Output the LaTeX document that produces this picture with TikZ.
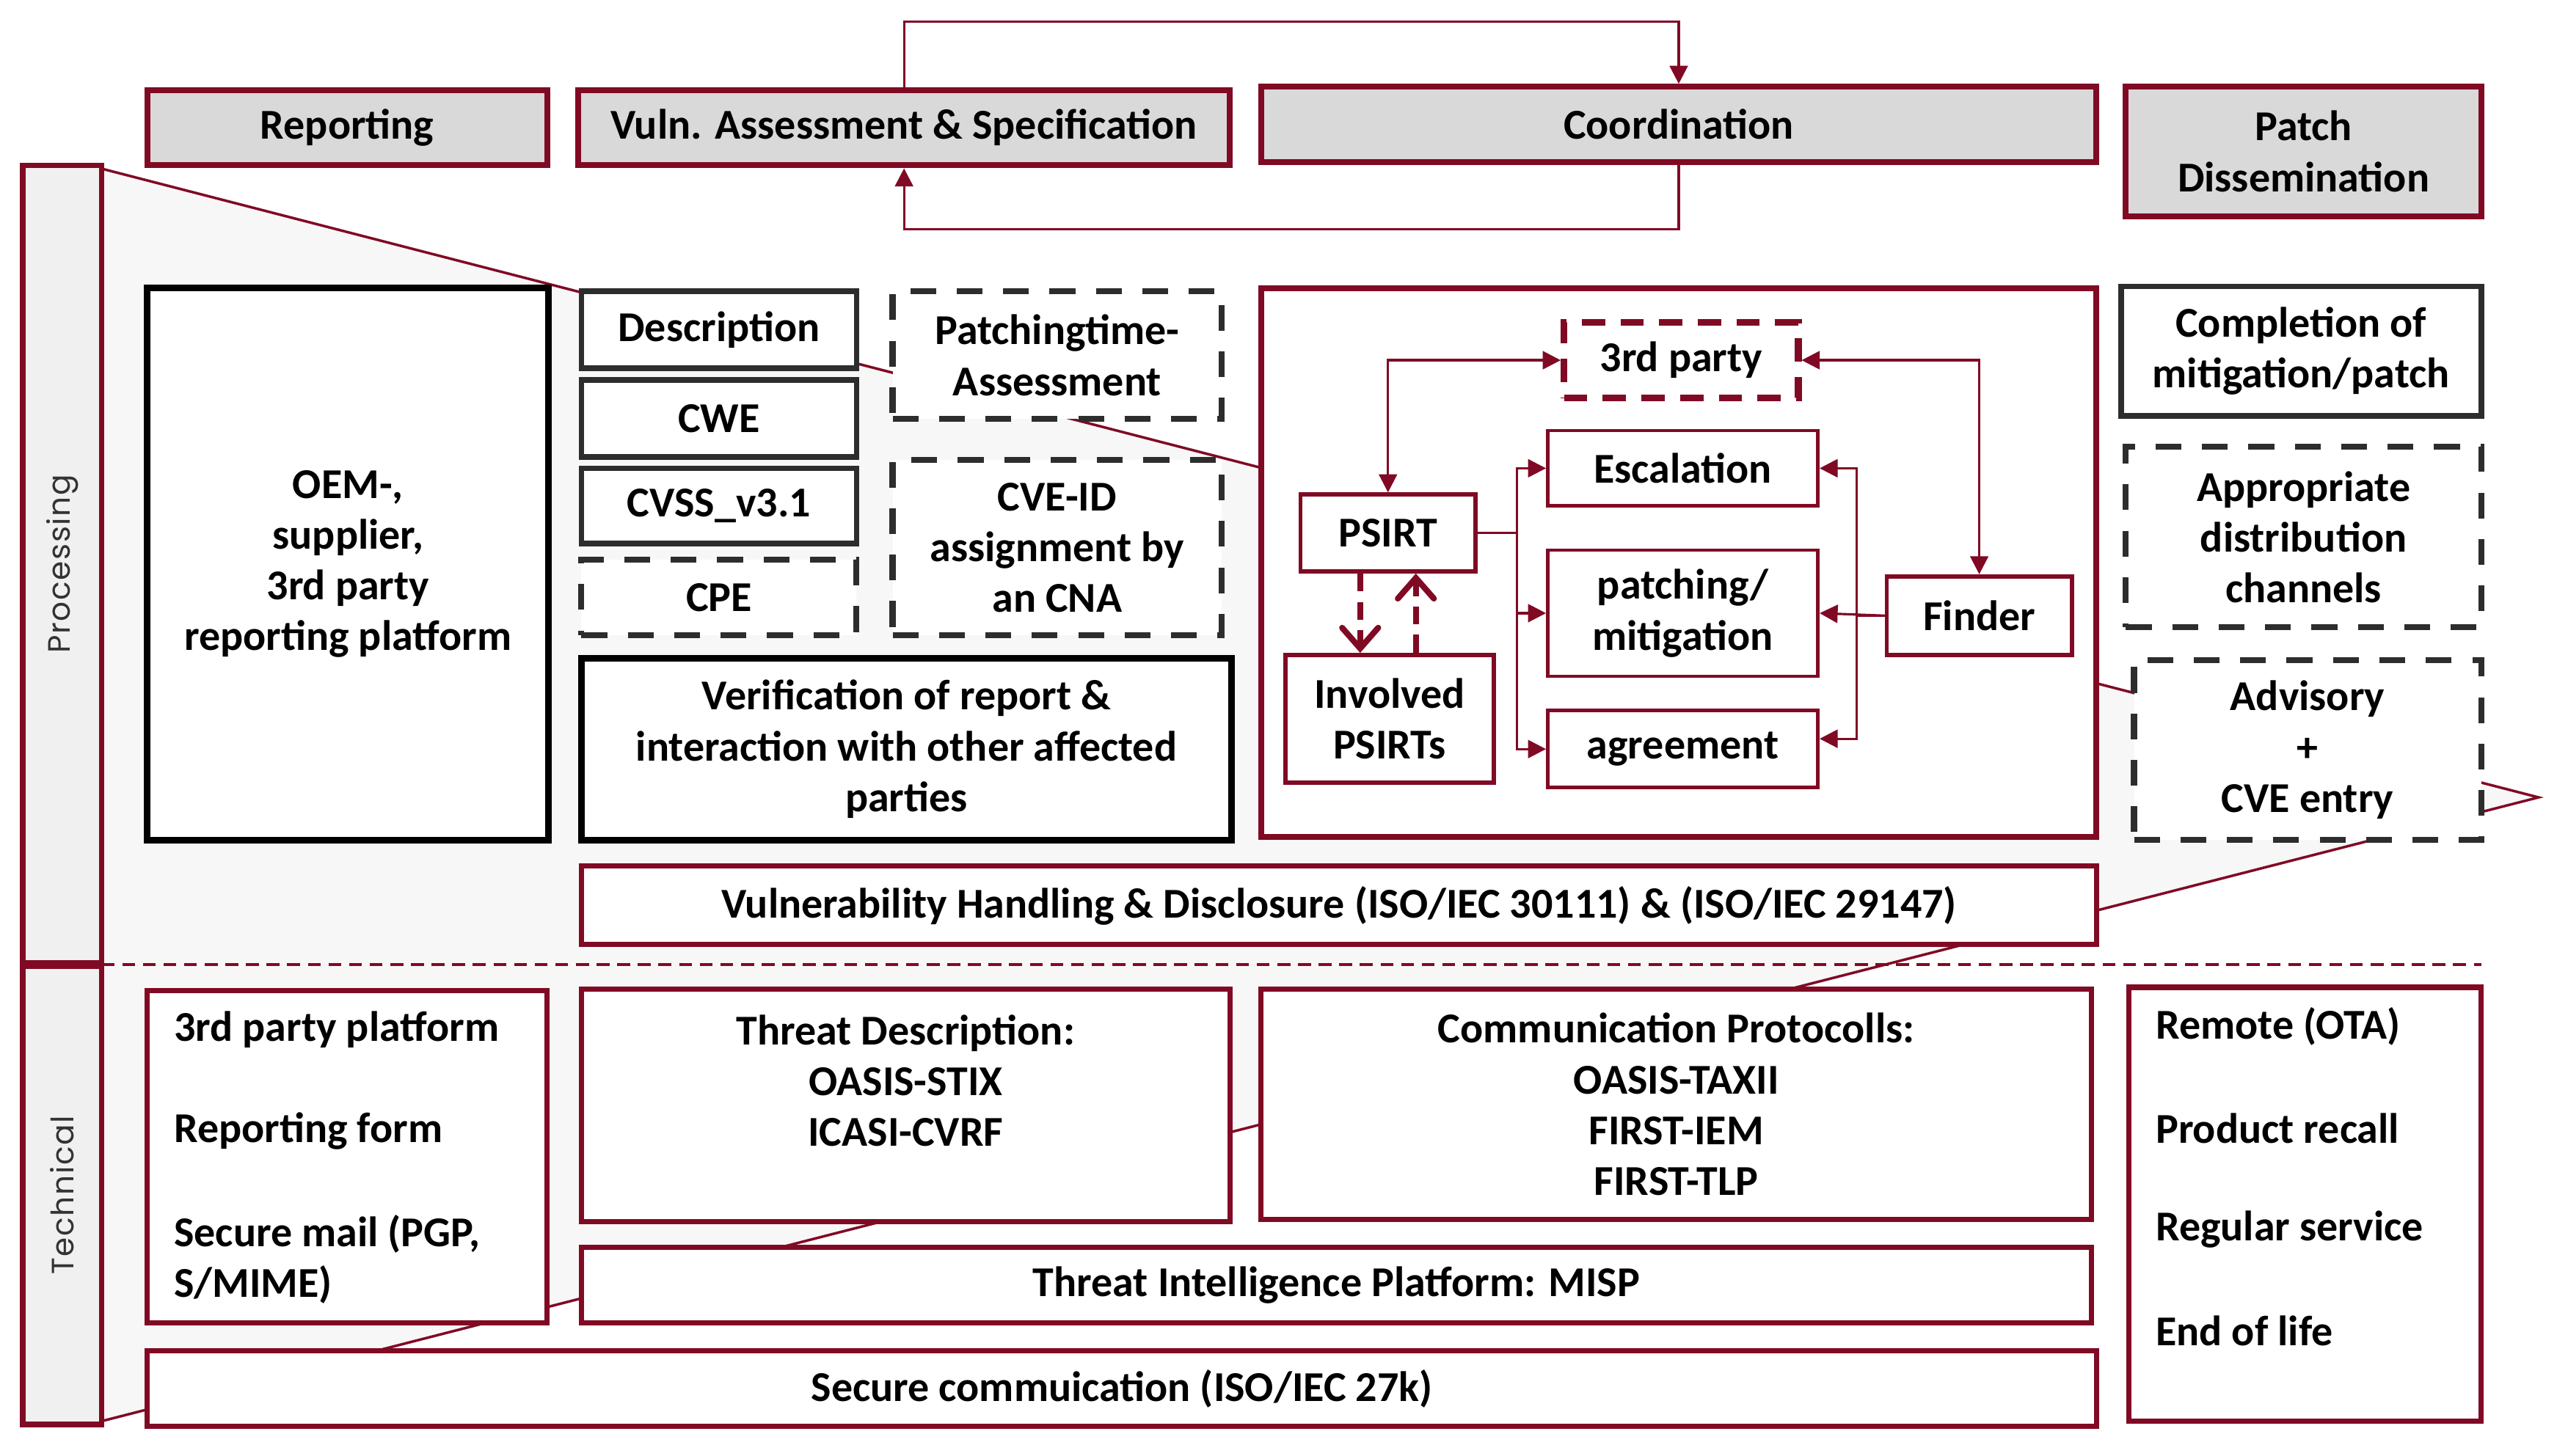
\documentclass[tikz,border=0pt]{standalone}
\usepackage{fontspec}
\setmainfont{Carlito}
\newfontfamily\sidefont{Poppins}[LetterSpace=4]
\usetikzlibrary{arrows.meta,fit,calc}
\definecolor{dred}{RGB}{128,10,36}
\definecolor{hdrgray}{RGB}{217,217,217}
\definecolor{sidegray}{RGB}{240,240,240}
\definecolor{trigray}{RGB}{247,247,247}
\definecolor{dgray}{RGB}{45,45,45}
\tikzset{
  txt/.style={font=\bfseries\fontsize{16.5}{19.7}\selectfont, align=center, text=black, inner sep=0pt},
  box/.style={inner sep=0pt, fill=white},
  hdr/.style={box, draw=dred, line width=2.3pt, fill=hdrgray},
  blk/.style={box, draw=black, line width=2.6pt},
  gry/.style={box, draw=dgray, line width=2.2pt},
  gdash/.style={gry, line width=2.3pt, dash pattern=on 10pt off 8pt},
  rbig/.style={box, draw=dred, line width=2.3pt},
  rsm/.style={box, draw=dred, line width=1.3pt},
  rtech/.style={box, draw=dred, line width=2pt},
  conn/.style={draw=dred, line width=0.9pt},
  tipend/.style={-{Triangle[length=7pt,width=7pt]}},
  tipboth/.style={{Triangle[length=7pt,width=7pt]}-{Triangle[length=7pt,width=7pt]}},
  dasharr/.style={draw=dred, line width=2.3pt, dash pattern=on 7pt off 4pt, -{Straight Barb[length=8pt,width=14pt,line cap=round]}},
  sidelbl/.style={rotate=90, font=\sidefont\fontsize{12}{14}\selectfont, text=black!80}
}
\begin{document}
\begin{tikzpicture}[x=0.022321cm,y=-0.022321cm]
\useasboundingbox (0,0) rectangle (1568,889);
\fill[white] (0,0) rectangle (1568,889);
% background callout triangle
\fill[trigray] (62,103) -- (1550,487) -- (62,868) -- cycle;
\draw[dred, line width=1pt] (62,103) -- (1550,487) -- (62,868);
% side bars
\node[box, draw=dred, line width=2.2pt, fill=sidegray, fit={(14,101)(62,588)}] (procbar) {};
\node[box, draw=dred, line width=2.2pt, fill=sidegray, fit={(14,590)(62,870)}] (techbar) {};
\node[sidelbl] (proclbl) at (procbar.center) {Processing};
\node[sidelbl] (techlbl) at (techbar.center) {Technical};
% dashed separator
\coordinate (sepL) at (62,589);
\coordinate (sepR) at (1515,589);
\draw[dred, line width=1pt, dash pattern=on 5pt off 3pt] (sepL) -- (sepR);
% headers
\node[hdr, fit={(90,55)(334,101)}] (rep) {};
\node[txt] (rept) at (rep.center) {Reporting};
\node[hdr, fit={(353,55)(751,101)}] (vuln) {};
\node[txt] (vulnt) at (vuln.center) {Vuln. Assessment \& Specification};
\node[hdr, fit={(770,53)(1280,99)}] (coord) {};
\node[txt] (coordt) at (coord.center) {Coordination};
\node[hdr, fit={(1298,53)(1515,132)}] (patchd) {};
\node[txt] (patchdt) at (patchd.center) {Patch\\Dissemination};
\draw[conn, tipend] (vuln.north) -- ++(0,-40) -| (coord.north);
\draw[conn, tipend] (coord.south) -- ++(0,39) -| (vuln.south);
% processing row
\node[blk, fit={(90,176)(335,513)}] (oem) {};
\node[txt] (oemt) at (oem.center) {OEM-,\\supplier,\\3rd party\\reporting platform};
\node[gry, fit={(355,178)(523,225)}] (desc) {};
\node[txt] (desct) at (desc.center) {Description};
\node[gry, fit={(355,232)(523,279)}] (cwe) {};
\node[txt] (cwet) at (cwe.center) {CWE};
\node[gry, fit={(355,286)(523,332)}] (cvss) {};
\node[txt] (cvsst) at (cvss.center) {CVSS\_v3.1};
\node[gdash, fit={(355,342)(523,388)}] (cpe) {};
\node[txt] (cpet) at (cpe.center) {CPE};
\node[gdash, fit={(545,178)(746,256)}] (pta) {};
\node[txt] (ptat) at (pta.center) {Patchingtime-\\Assessment};
\node[gdash, fit={(545,281)(746,388)}] (cveid) {};
\node[txt] (cveidt) at (cveid.center) {CVE-ID\\assignment by\\an CNA};
\node[blk, fit={(355,402)(752,513)}] (verif) {};
\node[txt] (veritft) at (verif.center) {Verification of report \&\\interaction with other affected\\parties};
\node[rbig, fit={(770,176)(1280,511)}] (coordbox) {};
\node[rbig, line width=2.6pt, dash pattern=on 9pt off 6pt, fit={(955,197)(1098,243)}] (third) {};
\node[txt] (thirdt) at (third.center) {3rd party};
\node[rsm, fit={(945,263)(1110,309)}] (esc) {};
\node[txt] (esct) at (esc.center) {Escalation};
\node[rsm, fit={(945,336)(1110,413)}] (patchm) {};
\node[txt] (patchmt) at (patchm.center) {patching/\\mitigation};
\node[rsm, fit={(945,434)(1110,481)}] (agree) {};
\node[txt] (agreet) at (agree.center) {agreement};
\node[rsm, line width=1.6pt, fit={(794,302)(901,349)}] (psirt) {};
\node[txt] (psirtt) at (psirt.center) {PSIRT};
\node[rsm, line width=1.6pt, fit={(785,400)(912,478)}] (inv) {};
\node[txt] (invt) at (inv.center) {Involved\\PSIRTs};
\node[rsm, line width=1.6pt, fit={(1152,352)(1265,400)}] (finder) {};
\node[txt] (findert) at (finder.center) {Finder};
\node[gry, line width=2.2pt, fit={(1295,175)(1515,254)}] (compl) {};
\node[txt] (complt) at (compl.center) {Completion of\\mitigation/patch};
\node[gdash, fit={(1298,273)(1515,383)}] (appr) {};
\node[txt] (apprt) at (appr.center) {Appropriate\\distribution\\channels};
\node[gdash, fit={(1303,403)(1515,513)}] (adv) {};
\node[txt] (advt) at (adv.center) {Advisory\\+\\CVE entry};
\node[rtech, fit={(355,529)(1280,577)}] (vhd) {};
\node[txt] (vhdt) at (vhd.center) {Vulnerability Handling \& Disclosure (ISO/IEC 30111) \& (ISO/IEC 29147)};
% coordination arrows
\draw[conn, tipboth] (psirt.north) |- (third.west);
\draw[conn, tipboth] (third.east) -| (finder.north);
\draw[conn, tipend] (psirt.east) -- ++(24,0) |- (esc.west);
\draw[conn, tipend] (psirt.east) -- ++(24,0) |- (patchm.west);
\draw[conn, tipend] (psirt.east) -- ++(24,0) |- (agree.west);
\draw[conn, tipend] (finder.west) -- (patchm.east);
\draw[conn, tipend] (finder.west) -- ++(-17,0) |- (esc.east);
\draw[conn, tipend] (finder.west) -- ++(-17,0) |- ([yshift=4pt]agree.east);
\draw[dasharr] ($(psirt.south)+(-17,0)$) -- ($(inv.north)+(-18,0)$);
\draw[dasharr] ($(inv.north)+(16,0)$) -- ($(psirt.south)+(17,0)$);
% technical row
\node[rtech, fit={(90,605)(334,808)}] (tp) {};
\node[txt, anchor=west] (tp1) at (106,629) {3rd party platform};
\node[txt, anchor=west] (tp2) at (106,691) {Reporting form};
\node[txt, anchor=west, align=left] (tp3) at (106,769) {Secure mail (PGP,\\S/MIME)};
\node[rtech, fit={(355,604)(751,746)}] (td) {};
\node[txt] (tdt) at (553,660) {Threat Description:\\OASIS-STIX\\ICASI-CVRF};
\node[rtech, fit={(770,604)(1277,745)}] (cp) {};
\node[txt] (cpt) at (cp.center) {Communication Protocolls:\\OASIS-TAXII\\FIRST-IEM\\FIRST-TLP};
\node[rtech, fit={(1300,603)(1515,868)}] (rem) {};
\node[txt, anchor=west] (rem1) at (1316,627) {Remote (OTA)};
\node[txt, anchor=west] (rem2) at (1316,689) {Product recall};
\node[txt, anchor=west] (rem3) at (1316,751) {Regular service};
\node[txt, anchor=west] (rem4) at (1316,813) {End of life};
\node[rtech, fit={(355,762)(1277,808)}] (tip) {};
\node[txt] (tipt) at (tip.center) {Threat Intelligence Platform: MISP};
\node[rtech, fit={(90,825)(1280,871)}] (sc) {};
\node[txt] (sct) at (sc.center) {Secure commuication (ISO/IEC 27k)};
\end{tikzpicture}
\end{document}
